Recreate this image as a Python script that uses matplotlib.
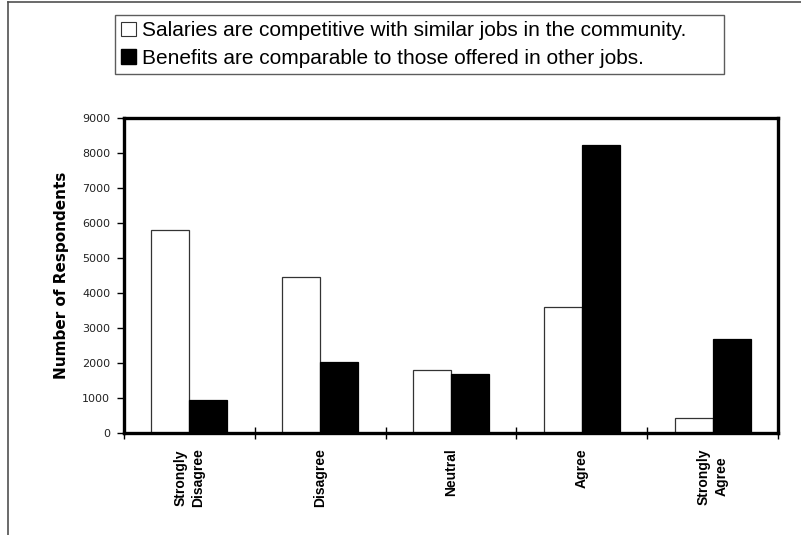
import matplotlib
matplotlib.use("Agg")
import matplotlib.pyplot as plt
from matplotlib.lines import Line2D
from matplotlib.patches import Patch
import numpy as np

categories = ["Strongly\nDisagree", "Disagree", "Neutral", "Agree", "Strongly\nAgree"]
salaries = [5800, 4460, 1790, 3610, 430]
benefits = [940, 2020, 1700, 8240, 2680]
series_labels = [
    "Salaries are competitive with similar jobs in the community.",
    "Benefits are comparable to those offered in other jobs.",
]
yticks = [0, 1000, 2000, 3000, 4000, 5000, 6000, 7000, 8000, 9000]

plt.rcParams["font.family"] = ["Liberation Sans", "DejaVu Sans"]

fig = plt.figure(figsize=(8.01, 5.35), dpi=100)
fig.set_facecolor("white")

# outer frame (only top and left edges visible)
fig.add_artist(Line2D([8 / 801, 8 / 801], [0, 1 - 2 / 535], transform=fig.transFigure,
                      color="#505050", lw=1.2))
fig.add_artist(Line2D([8 / 801, 1], [1 - 2 / 535, 1 - 2 / 535], transform=fig.transFigure,
                      color="#505050", lw=1.2))

ax = fig.add_axes([124 / 801, 1 - 433 / 535, 654 / 801, 315 / 535])

x = np.arange(len(categories))
w = 0.29
ax.bar(x - w / 2, salaries, w, color="white", edgecolor="#333333", lw=0.9, zorder=2)
ax.bar(x + w / 2, benefits, w, color="black", edgecolor="black", lw=0.9, zorder=2)

ax.set_xlim(-0.5, len(categories) - 0.5)
ax.set_ylim(0, 9000)
ax.set_yticks(yticks)
ax.set_yticklabels([str(v) for v in yticks], fontsize=8, color="#222222",
                   family="DejaVu Sans")
ax.tick_params(axis="y", length=5, width=1, direction="out", pad=5)

ax.set_xticks(x)
ax.set_xticklabels(categories, rotation=90, fontsize=10, fontweight="bold",
                   va="top", ha="center", linespacing=1.35)
ax.tick_params(axis="x", which="major", length=0, pad=11)
ax.set_xticks(np.arange(len(categories) + 1) - 0.5, minor=True)
ax.tick_params(axis="x", which="minor", length=8, width=1, direction="inout")

for s in ax.spines.values():
    s.set_linewidth(2.4)
    s.set_color("black")

ax.set_ylabel("Number of Respondents", fontsize=11, fontweight="heavy",
              family="DejaVu Sans", labelpad=9)

handles = [Patch(facecolor="white", edgecolor="#333333", lw=0.8),
           Patch(facecolor="black", edgecolor="black")]
leg = fig.legend(handles, series_labels, loc="upper left", mode="expand",
                 bbox_to_anchor=(115 / 801, 1 - 86 / 535, 609 / 801, 71 / 535),
                 fontsize=15, frameon=True, fancybox=False, edgecolor="#333333",
                 handlelength=0.7, handleheight=0.7, handletextpad=0.3,
                 borderpad=0.3, labelspacing=0.4, borderaxespad=0)
leg.get_frame().set_linewidth(1.0)

fig.savefig("out.png", dpi=100, facecolor="white")
